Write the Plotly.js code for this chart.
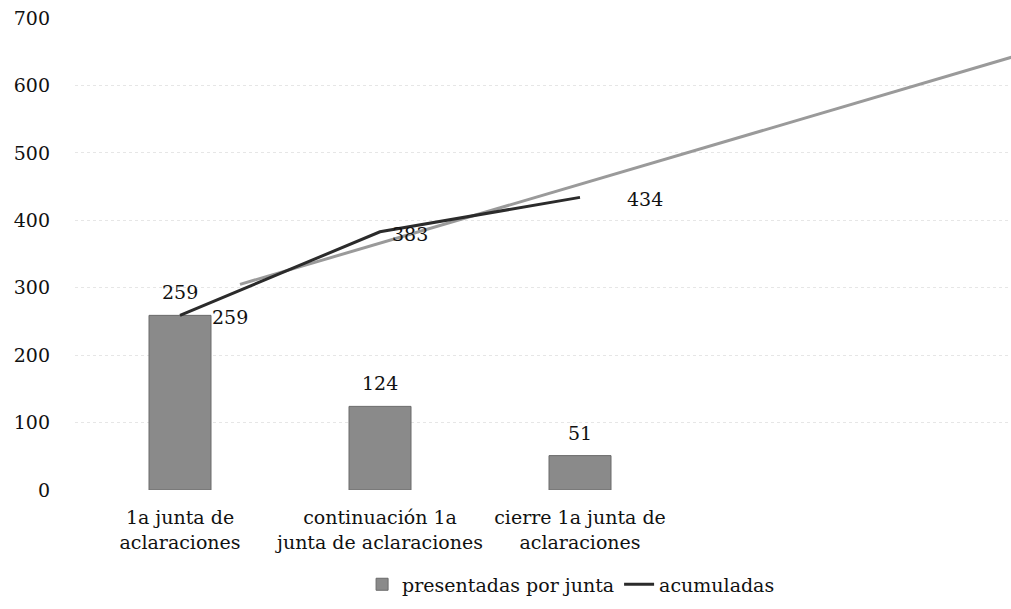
<!DOCTYPE html>
<html>
<head>
<meta charset="utf-8">
<script src="https://cdn.plot.ly/plotly-3.0.1.min.js"></script>
<style>html,body{margin:0;padding:0;background:#fff;}#chart{width:1011px;height:609px;}</style>
</head>
<body>
<div id="chart"></div>
<script>
const categories = ["1a junta de<br>aclaraciones", "continuación 1a<br>junta de aclaraciones", "cierre 1a junta de<br>aclaraciones"];
const catPos = [0, 1, 2];
const presentadas = [259, 124, 51];
const acumuladas = [259, 383, 434];
const trendX = [0.3, 4.16];
const trendY = [305, 642];
const yTicks = [0, 100, 200, 300, 400, 500, 600, 700];

const FONT = "DejaVu Serif, Liberation Serif, serif";
const FS = 19;

const traces = [
  {
    type: "bar", name: "presentadas por junta", x: catPos, y: presentadas,
    width: 0.31, marker: {color: "#8a8a8a", line: {color: "#6a6a6a", width: 1}}
  },
  {
    type: "scatter", mode: "lines", name: "trend", x: trendX, y: trendY,
    line: {color: "#9a9a9a", width: 3}, showlegend: false, hoverinfo: "skip"
  },
  {
    type: "scatter", mode: "lines", name: "acumuladas", x: catPos, y: acumuladas,
    line: {color: "#2b2b2b", width: 3}
  }
];

const lineShift = [30, 10, 45];
const annotations = [];
presentadas.forEach((v, i) => annotations.push({
  x: catPos[i], y: v, text: String(v), showarrow: false, yanchor: "bottom", yshift: 10,
  font: {family: FONT, size: FS, color: "#111"}
}));
acumuladas.forEach((v, i) => annotations.push({
  x: catPos[i], y: v, text: String(v), showarrow: false, xanchor: "left", xshift: lineShift[i], yshift: -2,
  font: {family: FONT, size: FS, color: "#111"}
}));

const layout = {
  width: 1011, height: 609,
  margin: {l: 75, r: 0, t: 18, b: 119},
  paper_bgcolor: "#fff", plot_bgcolor: "#fff",
  font: {family: FONT, size: FS, color: "#111"},
  showlegend: true,
  legend: {orientation: "h", x: 0.53, xanchor: "center", y: -0.2, yanchor: "middle",
           font: {family: FONT, size: FS, color: "#111"}},
  xaxis: {range: [-0.525, 4.155], tickvals: catPos, ticktext: categories, tickangle: 0,
          showgrid: false, zeroline: false, showline: false, ticks: "", ticklabelstandoff: 14,
          tickfont: {family: FONT, size: FS, color: "#111"}},
  yaxis: {range: [0, 700], tickvals: yTicks, showgrid: true, gridcolor: "#e6e6e6", griddash: "dot",
          gridwidth: 1, zeroline: false, showline: false, ticks: "", ticklabelstandoff: 24,
          tickfont: {family: FONT, size: FS, color: "#111"}},
  annotations: annotations
};

Plotly.newPlot("chart", traces, layout, {displayModeBar: false, staticPlot: true});
</script>
</body>
</html>
